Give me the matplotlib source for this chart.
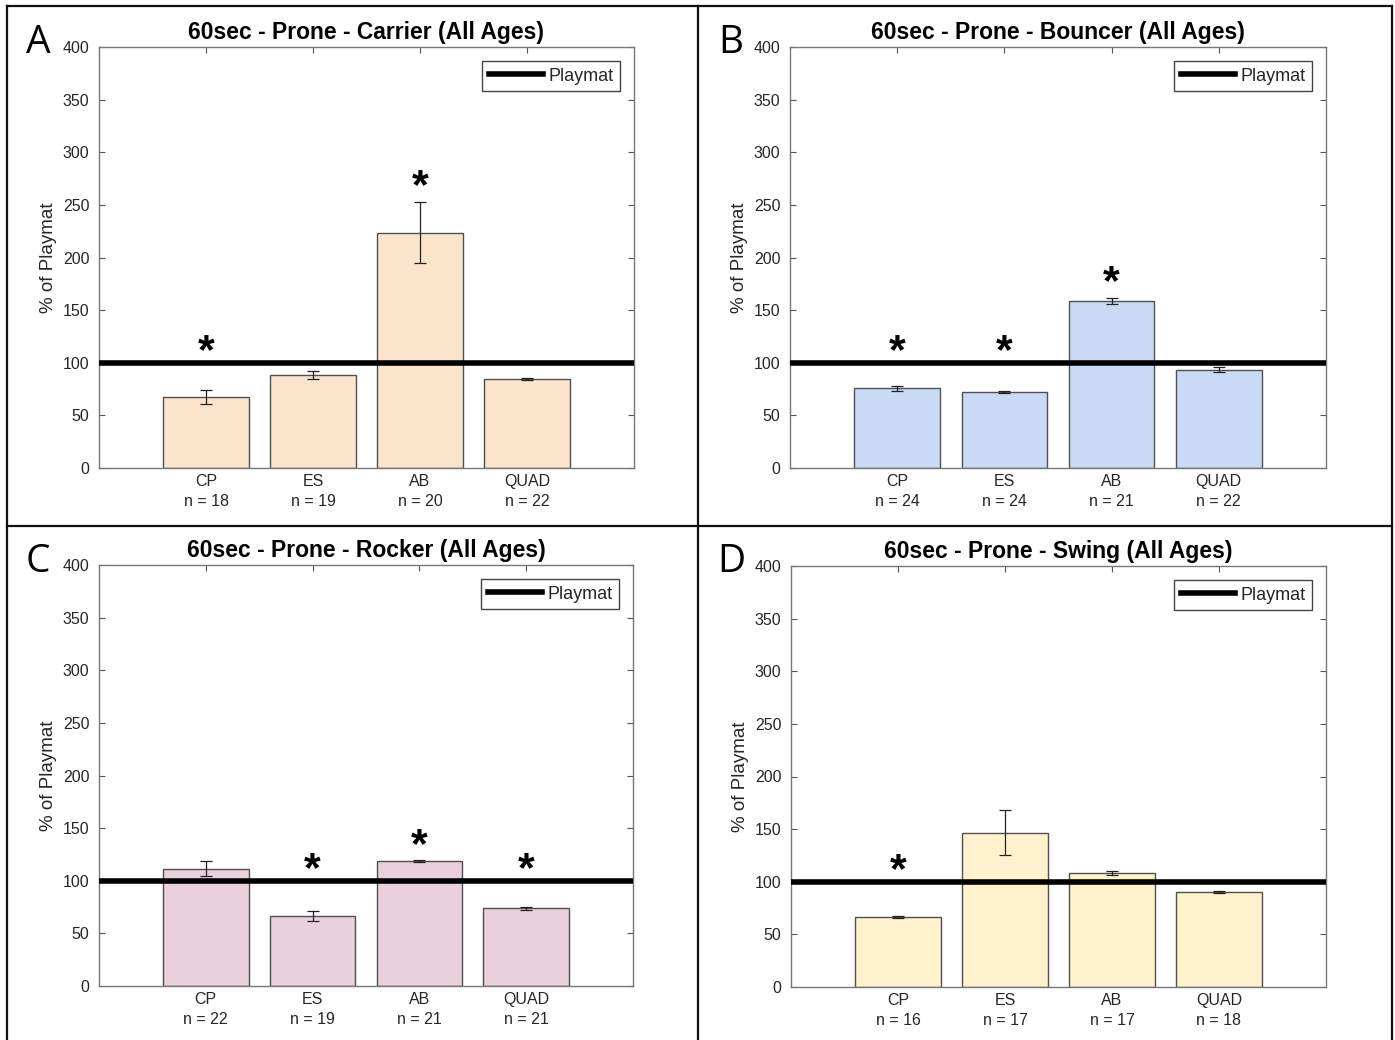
import matplotlib
matplotlib.use("Agg")
import matplotlib.pyplot as plt
from matplotlib.lines import Line2D
import numpy as np

plt.rcParams['font.family'] = ['Liberation Sans', 'DejaVu Sans']

categories = ["CP", "ES", "AB", "QUAD"]
titles = ["60sec - Prone - Carrier (All Ages)", "60sec - Prone - Bouncer (All Ages)",
          "60sec - Prone - Rocker (All Ages)", "60sec - Prone - Swing (All Ages)"]
letters = ["A", "B", "C", "D"]
colors = ["#FBE4CC", "#C9DAF6", "#EAD0DC", "#FFF2CC"]

means_carrier = [67.5, 88.5, 223.5, 84.8]
errs_carrier = [7.0, 3.8, 29.0, 0.8]
n_carrier = [18, 19, 20, 22]
stars_carrier = [True, False, True, False]

means_bouncer = [75.7, 72.6, 158.7, 93.5]
errs_bouncer = [2.6, 1.0, 3.0, 2.6]
n_bouncer = [24, 24, 21, 22]
stars_bouncer = [True, True, True, False]

means_rocker = [111.5, 66.5, 118.8, 73.8]
errs_rocker = [7.0, 4.3, 0.6, 1.6]
n_rocker = [22, 19, 21, 21]
stars_rocker = [False, True, True, True]

means_swing = [66.5, 146.6, 108.3, 90.2]
errs_swing = [1.0, 21.4, 1.5, 0.7]
n_swing = [16, 17, 17, 18]
stars_swing = [True, False, False, False]

playmat = 100
yticks = [0, 50, 100, 150, 200, 250, 300, 350, 400]

W, H = 1395, 1040
fig = plt.figure(figsize=(W / 100, H / 100), dpi=100)

# axes boxes in pixels: left, top, right, bottom
boxes = [(99, 47, 634, 468), (790, 47, 1326, 468),
         (99, 565, 633, 986), (791, 566, 1326, 987)]
letter_pos = [(38, 43), (731, 43), (38, 562), (731, 562)]

datasets = [(means_carrier, errs_carrier, n_carrier, stars_carrier),
            (means_bouncer, errs_bouncer, n_bouncer, stars_bouncer),
            (means_rocker, errs_rocker, n_rocker, stars_rocker),
            (means_swing, errs_swing, n_swing, stars_swing)]

axcol = '#555555'
txtcol = '#262626'

for i, (box, (m, e, n, s)) in enumerate(zip(boxes, datasets)):
    l, t, r, b = box
    ax = fig.add_axes([l / W, 1 - b / H, (r - l) / W, (b - t) / H])
    x = np.arange(1, len(categories) + 1)
    ax.bar(x, m, width=0.8, color=colors[i], edgecolor='#505050', linewidth=1.0, zorder=2)
    ax.errorbar(x, m, yerr=e, fmt='none', ecolor='#222222', elinewidth=0.9,
                capsize=4, capthick=0.9, zorder=3)
    ax.axhline(playmat, color='black', linewidth=4, zorder=4, label='Playmat')
    for xi, mi, ei, si in zip(x, m, e, s):
        if si:
            top = mi + ei
            off = 10 if top <= playmat + 10 else 14
            ax.text(xi, max(playmat, top) + off, '*', ha='center', va='center',
                    fontsize=31, fontweight='bold', color='black', zorder=5)
    ax.set_xlim(0, 5)
    ax.set_ylim(0, 400)
    ax.set_yticks(yticks)
    ax.set_xticks(x)
    ax.set_xticklabels([f"{c}\nn = {k}" for c, k in zip(categories, n)],
                       linespacing=1.45)
    ax.tick_params(axis='both', direction='in', length=4, width=0.8, color=axcol,
                   labelcolor=txtcol, labelsize=11.5, top=True, right=True)
    ax.tick_params(axis='y', pad=7)
    ax.tick_params(axis='x', pad=4)
    for sp in ax.spines.values():
        sp.set_color('#777777')
        sp.set_linewidth(1.0)
    ax.set_ylabel('% of Playmat', fontsize=13.5, color=txtcol, labelpad=4)
    ax.set_title(titles[i], fontsize=16.5, fontweight='bold', color='black', pad=6)
    leg = ax.legend(loc='upper right', fontsize=13, handlelength=3.0,
                    handletextpad=0.3, borderpad=0.35, borderaxespad=0.8,
                    fancybox=False, framealpha=1)
    leg.get_frame().set_edgecolor('#444444')
    leg.get_frame().set_linewidth(1.0)
    for txt in leg.get_texts():
        txt.set_color(txtcol)
    lx, ly = letter_pos[i]
    fig.text(lx / W, 1 - ly / H, letters[i], fontsize=28, ha='center', va='center',
             family=['Open Sans', 'DejaVu Sans'], color='black')

# panel borders
def fline(x0, y0, x1, y1):
    fig.add_artist(Line2D([x0 / W, x1 / W], [1 - y0 / H, 1 - y1 / H],
                          color='#111111', linewidth=1.6))

fline(7, 6, 1392, 6)
fline(7, 6, 7, 1040)
fline(1392, 6, 1392, 1040)
fline(698, 6, 698, 1040)
fline(7, 526, 1392, 526)

fig.savefig('out.png', dpi=100)
